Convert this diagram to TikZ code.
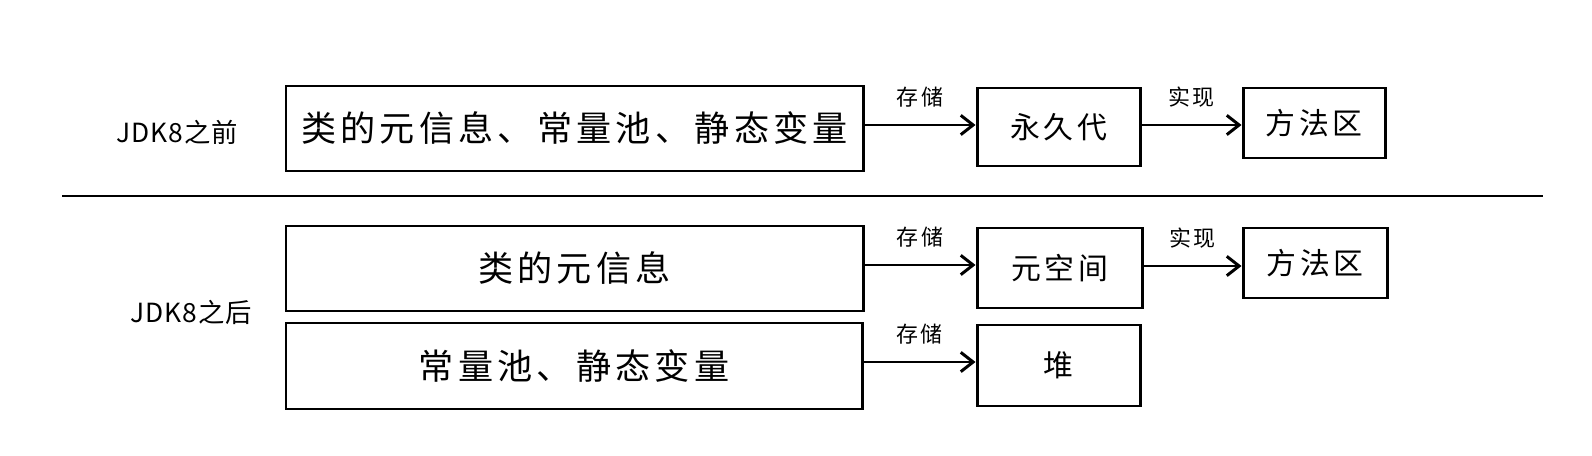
\documentclass[tikz,border=0pt]{standalone}
\usepackage{fontspec}
\setmainfont{Noto Sans CJK SC}[LetterSpace=12]
\newfontfamily\sidefont{Noto Sans CJK SC}[LetterSpace=4]
\usetikzlibrary{arrows.meta}
\usetikzlibrary{positioning}

\begin{document}
\begin{tikzpicture}[
        x=0.02cm, y=-0.02cm,
        box/.style={draw, line width=1.7pt, inner sep=0pt, font=\fontsize{20}{24}\selectfont},
        smallbox/.style={box, font=\fontsize{17}{20}\selectfont},
        arrow/.style={-{Straight Barb[length=7pt, width=11pt]}, line width=1.7pt},
        tag/.style={font=\fontsize{12.5}{14}\selectfont, above, yshift=6pt},
        side/.style={font=\sidefont\fontsize{15}{18}\selectfont}
    ]
        \useasboundingbox (0,0) rectangle (1592,456);

        % --- JDK8 之前 ---
        \node[side] (before) at (177,132) {JDK8之前};
        \node[box, minimum width=577*0.02cm, minimum height=85*0.02cm] (allinfo) at (574.5,128.5) {类的元信息、常量池、静态变量};
        \node[smallbox, minimum width=163*0.02cm, minimum height=78*0.02cm] (perm) at (1058.5,127) {永久代};
        \node[smallbox, minimum width=142*0.02cm, minimum height=70*0.02cm] (method1) at (1314,123) {方法区};

        \draw[arrow] (allinfo.east |- 0,125) -- (perm.west |- 0,125) node[tag, midway] {存储};
        \draw[arrow] (perm.east |- 0,125) -- (method1.west |- 0,125) node[tag, midway] {实现};

        % --- Separador ---
        \coordinate (sepL) at (62,196);
        \coordinate (sepR) at (1543,196);
        \draw[line width=1.7pt] (sepL) -- (sepR);

        % --- JDK8 之后 ---
        \node[side] (after) at (191,312) {JDK8之后};
        \node[box, minimum width=577*0.02cm, minimum height=85*0.02cm] (classinfo) at (574.5,268.5) {类的元信息};
        \node[smallbox, minimum width=165*0.02cm, minimum height=80*0.02cm] (meta) at (1059.5,268) {元空间};
        \node[smallbox, minimum width=144*0.02cm, minimum height=70*0.02cm] (method2) at (1315,263) {方法区};
        \node[box, minimum width=576*0.02cm, minimum height=86*0.02cm] (constinfo) at (574,366) {常量池、静态变量};
        \node[smallbox, minimum width=163*0.02cm, minimum height=81*0.02cm] (heap) at (1058.5,365.5) {堆};

        \draw[arrow] (classinfo.east |- 0,265) -- (meta.west |- 0,265) node[tag, midway] {存储};
        \draw[arrow] (meta.east |- 0,266) -- (method2.west |- 0,266) node[tag, midway] {实现};
        \draw[arrow] (constinfo.east |- 0,362) -- (heap.west |- 0,362) node[tag, midway] {存储};
\end{tikzpicture}
\end{document}
